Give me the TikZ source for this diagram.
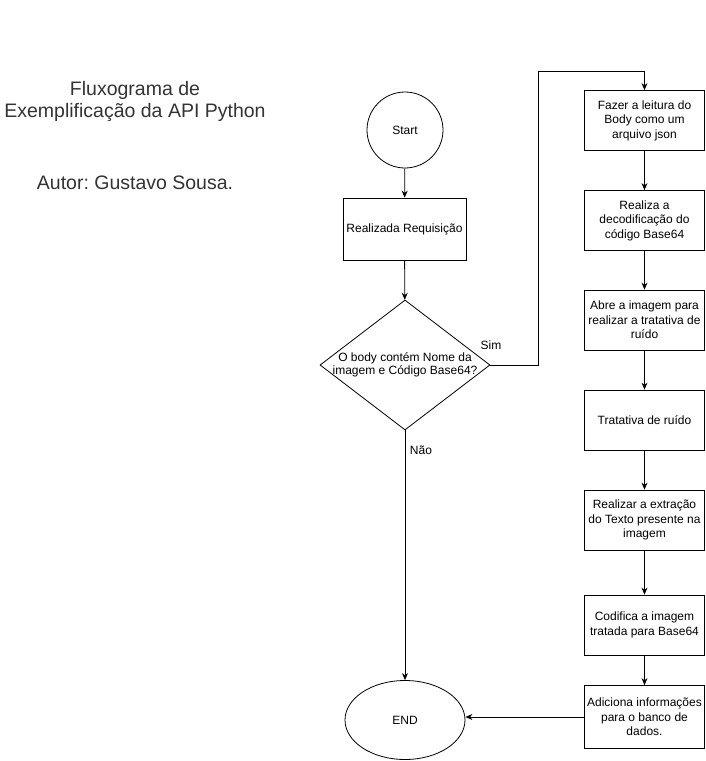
\documentclass[tikz,border=0pt]{standalone}
\usepackage{fontspec}
\setmainfont{Liberation Sans}
\usetikzlibrary{arrows.meta,shapes.geometric}
\tikzset{
  caixa/.style={draw,minimum width=120pt,minimum height=60pt,
    align=center,inner sep=1pt,font=\fontsize{12}{14.4}\selectfont},
  seta/.style={-{Stealth[length=7pt,width=6pt]},line width=0.8pt},
  rotulo/.style={font=\fontsize{12}{14}\selectfont},
}
\frenchspacing
\begin{document}
\begin{tikzpicture}[x=1pt,y=-1pt,line width=0.8pt]
\useasboundingbox (0,0) rectangle (705,761);
% titulo e autor
\node[align=center,font=\fontsize{19.5}{22}\selectfont,text=black!80] (titulo) at (135,101)
  {Fluxograma de\\Exemplificação da API Python};
\node[font=\fontsize{19.5}{22}\selectfont,text=black!80] (autor) at (135,183) {Autor: Gustavo Sousa.};
% coluna central
\node[circle,draw,minimum size=76pt,inner sep=0pt,rotulo] (inicio) at (405,130) {Start};
\node[caixa,minimum width=123pt,minimum height=62pt] (req) at (404.5,229) {Realizada Requisição};
\node[diamond,draw,minimum width=170pt,minimum height=130pt,inner sep=0pt] (dec) at (405,365) {};
\node[align=center,font=\fontsize{12}{13.5}\selectfont] (dectxt) at (dec.center)
  {O body contém Nome da\\imagem e Código Base64?};
\node[ellipse,draw,minimum width=120pt,minimum height=79pt,rotulo] (fim) at (405,720) {END};
% coluna da direita
\node[caixa] (b1) at (644.5,120.5) {Fazer a leitura do\\Body como um\\arquivo json};
\node[caixa] (b2) at (644.5,220.5) {Realiza a\\decodificação do\\código Base64};
\node[caixa] (b3) at (644.5,320) {Abre a imagem para\\realizar a tratativa de\\ruído};
\node[caixa] (b4) at (644.5,420) {Tratativa de ruído};
\node[caixa] (b5) at (644.5,520) {Realizar a extração\\do Texto presente na\\imagem};
\node[caixa] (b6) at (644.5,625) {Codifica a imagem\\tratada para Base64};
\node[caixa,minimum height=63pt] (b7) at (644.5,717) {Adiciona informações\\para o banco de\\dados.};
% ligacoes
\draw[seta] (inicio) -- (req);
\draw[seta] (req) -- (dec);
\coordinate (desvio) at (538,71);
\draw[seta] (dec.east) -| (desvio) -| (b1.north);
\node[rotulo] (sim) at (491,345) {Sim};
\draw[seta] (dec.south) -- (fim.north);
\node[rotulo] (nao) at (421,450) {Não};
\draw[seta] (b1) -- (b2);
\draw[seta] (b2) -- (b3);
\draw[seta] (b3) -- (b4);
\draw[seta] (b4) -- (b5);
\draw[seta] (b5) -- (b6);
\draw[seta] (b6) -- (b7);
\draw[seta] (b7.west) -- (fim.east |- b7.west);
\end{tikzpicture}
\end{document}
